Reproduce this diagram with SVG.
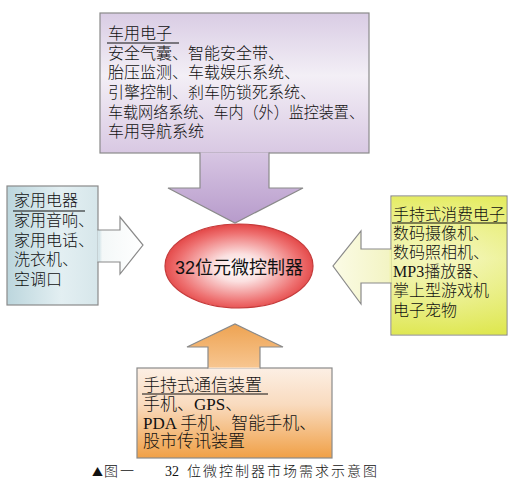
<svg xmlns="http://www.w3.org/2000/svg" width="517" height="499" viewBox="0 0 517 499">
<defs>
<linearGradient id="gTop" gradientUnits="userSpaceOnUse" x1="0" y1="13" x2="0" y2="223">
<stop offset="0" stop-color="#d9cce4"/><stop offset="0.3" stop-color="#f3eff6"/><stop offset="0.66" stop-color="#d9c9e3"/><stop offset="0.68" stop-color="#d6c4e2"/><stop offset="1" stop-color="#b79bcb"/>
</linearGradient>
<linearGradient id="gLeft" gradientUnits="userSpaceOnUse" x1="7" y1="0" x2="143" y2="0">
<stop offset="0" stop-color="#bcd6dd"/><stop offset="0.4" stop-color="#e3eff2"/><stop offset="0.68" stop-color="#d6e6ea"/><stop offset="0.7" stop-color="#f4f8f8"/><stop offset="1" stop-color="#ffffff"/>
</linearGradient>
<linearGradient id="gRight" gradientUnits="userSpaceOnUse" x1="333" y1="0" x2="507" y2="0">
<stop offset="0" stop-color="#fbfbe6"/><stop offset="0.32" stop-color="#f3f4c4"/><stop offset="0.34" stop-color="#eef197"/><stop offset="0.7" stop-color="#f1f4a8"/><stop offset="1" stop-color="#e2ea52"/>
</linearGradient>
<linearGradient id="gRightV" gradientUnits="userSpaceOnUse" x1="0" y1="196" x2="0" y2="335">
<stop offset="0" stop-color="#e4eb5c" stop-opacity="0.9"/><stop offset="0.45" stop-color="#f6f8cc" stop-opacity="0.6"/><stop offset="1" stop-color="#dde64a" stop-opacity="0.9"/>
</linearGradient>
<linearGradient id="gBot" gradientUnits="userSpaceOnUse" x1="0" y1="324" x2="0" y2="458">
<stop offset="0" stop-color="#eea352"/><stop offset="0.32" stop-color="#f7c58f"/><stop offset="0.33" stop-color="#fcefe4"/><stop offset="0.6" stop-color="#f9dbbf"/><stop offset="1" stop-color="#f0a046"/>
</linearGradient>
<radialGradient id="gEll" cx="0.5" cy="0.52" r="0.55">
<stop offset="0" stop-color="#ffffff"/><stop offset="0.3" stop-color="#fbe0e0"/><stop offset="0.75" stop-color="#ee7070"/><stop offset="1" stop-color="#e03a3a"/>
</radialGradient>
<style>
.box{stroke:#8a8a8a;stroke-width:1.2}
.arr{stroke:#8a8a8a;stroke-width:1.2;stroke-linejoin:miter}
.t{font-family:"Liberation Serif","Noto Sans CJK SC",sans-serif;fill:#111;font-weight:300}
.t16{font-size:16px}
.t17{font-size:17px}
.ul{stroke:#111;stroke-width:1.2}
</style>
</defs>
<rect width="517" height="499" fill="#ffffff"/>

<g id="node-car">
<rect class="box" x="100" y="13" width="269" height="140" fill="url(#gTop)"/>
<g class="t t16">
<text x="108" y="39">车用电子</text>
<text x="108" y="59">安全气囊、智能安全带、</text>
<text x="108" y="78">胎压监测、车载娱乐系统、</text>
<text x="108" y="98">引擎控制、刹车防锁死系统、</text>
<text x="108" y="118" textLength="256" lengthAdjust="spacingAndGlyphs">车载网络系统、车内（外）监控装置、</text>
<text x="108" y="137">车用导航系统</text>
</g>
<line class="ul" x1="107" y1="43" x2="179" y2="43"/>
</g>

<g id="node-home">
<rect class="box" x="7" y="186" width="91" height="119" fill="url(#gLeft)"/>
<g class="t t16">
<text x="14" y="206">家用电器</text>
<text x="14" y="226">家用音响、</text>
<text x="14" y="246">家用电话、</text>
<text x="14" y="265">洗衣机、</text>
<text x="14" y="285">空调口</text>
</g>
<line class="ul" x1="13" y1="211" x2="85" y2="211"/>
</g>

<g id="node-consumer">
<rect class="box" x="391" y="196" width="116" height="139" fill="url(#gRight)"/>
<rect x="391.6" y="196.6" width="114.8" height="137.8" fill="url(#gRightV)"/>
<g class="t t16">
<text x="393" y="220">手持式消费电子</text>
<text x="393" y="239">数码摄像机、</text>
<text x="393" y="258">数码照相机、</text>
<text x="393" y="277">MP3播放器、</text>
<text x="393" y="296">掌上型游戏机</text>
<text x="393" y="316">电子宠物</text>
</g>
<line class="ul" x1="392" y1="223" x2="507" y2="223"/>
</g>

<g id="node-comm">
<rect class="box" x="137" y="368" width="195" height="90" fill="url(#gBot)"/>
<g class="t t17">
<text x="143" y="391">手持式通信装置</text>
<text x="143" y="410">手机、GPS、</text>
<text x="143" y="429">PDA 手机、智能手机、</text>
<text x="143" y="447">股市传讯装置</text>
</g>
<line class="ul" x1="142" y1="394" x2="268" y2="394"/>
</g>

<g id="node-mcu">
<ellipse cx="239" cy="266" rx="74" ry="42" fill="url(#gEll)" stroke="#c43a3a" stroke-width="1.2"/>
<text x="239" y="274" text-anchor="middle" font-family="Liberation Sans, Noto Sans CJK SC, sans-serif" font-size="18" fill="#111">32位元微控制器</text>
</g>

<g id="connectors">
<path class="arr" fill="url(#gTop)" d="M200,152.4 V188 H168 L235,223 L303,188 H269 V152.4"/>
<path class="arr" fill="url(#gLeft)" d="M97.4,230 H120 V217 L143,245 L120,274 V262 H97.4"/>
<path class="arr" fill="url(#gRight)" d="M391.6,249 H361 V231 L333,266 L361,304 V283 H391.6"/>
<path class="arr" fill="url(#gBot)" d="M208,368.6 V347 H187 L235,324 L283,347 H260 V368.6"/>
</g>

<g id="caption" class="t" font-size="14">
<text x="92" y="476" font-size="11" font-family="Noto Sans CJK SC, sans-serif">▲</text>
<text x="104" y="476" letter-spacing="2">图一</text>
<text x="165" y="476">32</text>
<text x="187" y="476" letter-spacing="2">位微控制器市场需求示意图</text>
</g>
</svg>
